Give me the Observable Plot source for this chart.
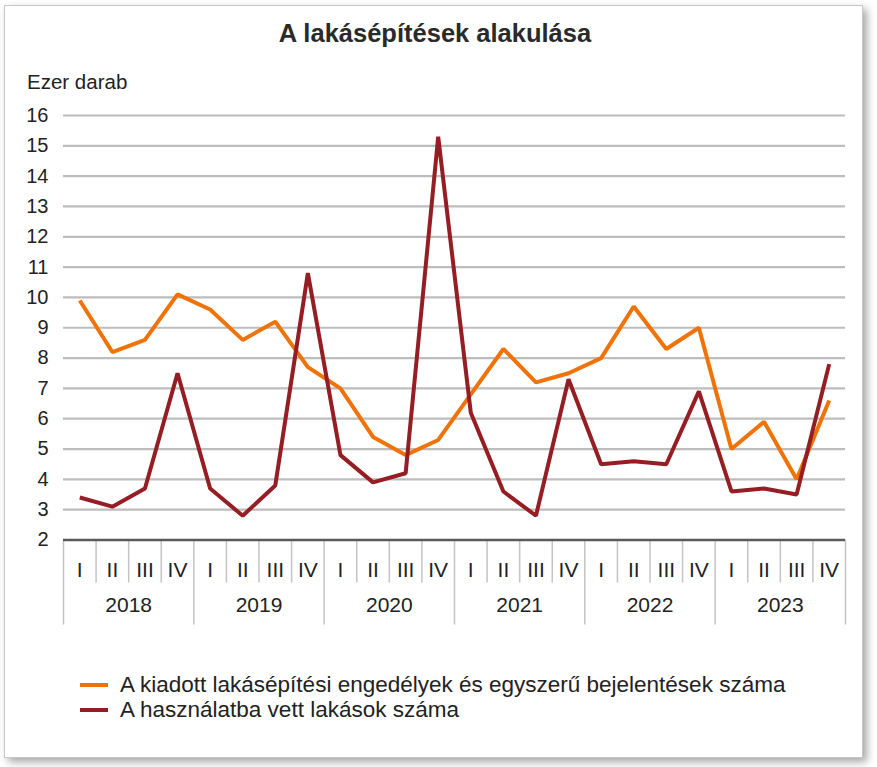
<!DOCTYPE html>
<html>
<head>
<meta charset="utf-8">
<script src="https://cdn.jsdelivr.net/npm/d3@7"></script>
<script src="https://cdn.jsdelivr.net/npm/@observablehq/plot@0.6"></script>
<style>
  html, body { margin: 0; padding: 0; background: #ffffff; }
  body { width: 877px; height: 767px; position: relative; overflow: hidden; font-family: "Liberation Sans", Arial, sans-serif; color: #222; }
  #box { position: absolute; left: 4px; top: 5px; width: 857px; height: 751px; border: 1px solid #c8c8c8; background: #fff; box-shadow: 4px 4px 8px rgba(0,0,0,0.35); }
  #title { position: absolute; left: 0; top: 19px; width: 870px; text-align: center; font-weight: bold; font-size: 25.5px; color: #2a2a2a; }
  #unit { position: absolute; left: 27px; top: 70px; font-size: 20.5px; color: #222; }
  #chart { position: absolute; left: 0; top: 60px; }
  #legend { position: absolute; left: 80px; top: 672px; font-size: 22.5px; color: #222; line-height: 25px; }
  .li { display: flex; align-items: center; }
  .sw { width: 28px; height: 4px; margin-right: 12px; }
</style>
</head>
<body>
<div id="box"></div>
<div id="title">A lakásépítések alakulása</div>
<div id="unit">Ezer darab</div>
<div id="chart"></div>
<div id="legend"></div>
<script>
const years = ["2018", "2019", "2020", "2021", "2022", "2023"];
const quarters = ["I", "II", "III", "IV"];
const seriesNames = [
  "A kiadott lakásépítési engedélyek és egyszerű bejelentések száma",
  "A használatba vett lakások száma"
];
const seriesColors = ["#EF7308", "#951D24"];
const permits = [9.9, 8.2, 8.6, 10.1, 9.6, 8.6, 9.2, 7.7, 7.0, 5.4, 4.8, 5.3,
                 6.8, 8.3, 7.2, 7.5, 8.0, 9.7, 8.3, 9.0, 5.0, 5.9, 4.0, 6.6];
const completed = [3.4, 3.1, 3.7, 7.5, 3.7, 2.8, 3.8, 10.8, 4.8, 3.9, 4.2, 15.3,
                   6.2, 3.6, 2.8, 7.3, 4.5, 4.6, 4.5, 6.9, 3.6, 3.7, 3.5, 7.8];
const yTicks = [2, 3, 4, 5, 6, 7, 8, 9, 10, 11, 12, 13, 14, 15, 16];

const rows = [];
[permits, completed].forEach((vals, s) => {
  vals.forEach((v, i) => rows.push({i, value: v, series: seriesNames[s]}));
});
const n = years.length * quarters.length;
const idx = d3.range(n);
const quarterSeps = d3.range(n + 1).map(i => i - 0.5).filter(v => (v + 0.5) % 4 !== 0);
const yearSeps = d3.range(years.length + 1).map(k => k * 4 - 0.5);
const yearCenters = years.map((y, k) => k * 4 + 1.5);

const chart = Plot.plot({
  width: 877,
  height: 580,
  marginLeft: 63,
  marginRight: 32,
  marginTop: 55,
  marginBottom: 100.5,
  style: {fontFamily: "'Liberation Sans', Arial, sans-serif", fontSize: "20px", color: "#222", background: "transparent"},
  x: {type: "linear", domain: [-0.5, n - 0.5]},
  y: {domain: [2, 16]},
  color: {domain: seriesNames, range: seriesColors},
  marks: [
    Plot.gridY(yTicks.slice(1), {stroke: "#bdbdbd", strokeOpacity: 1, strokeWidth: 2.2}),
    Plot.axisY(yTicks, {tickSize: 0, tickPadding: 15, label: null, fontSize: 20, fill: "#222"}),
    Plot.axisX(quarterSeps, {tickSize: 43, tickFormat: () => "", label: null, stroke: "#c4c4c4", strokeWidth: 1.5}),
    Plot.axisX(yearSeps, {tickSize: 85, tickFormat: () => "", label: null, stroke: "#c4c4c4", strokeWidth: 1.5}),
    Plot.axisX(idx, {tickSize: 0, tickPadding: 22, tickFormat: i => quarters[i % 4], label: null, fontSize: 21, fill: "#222"}),
    Plot.axisX(yearCenters, {tickSize: 0, tickPadding: 57, tickFormat: (v) => years[Math.round((v - 1.5) / 4)], label: null, fontSize: 21, fill: "#222"}),
    Plot.ruleY([2], {stroke: "#5a5a5a", strokeWidth: 2.5}),
    Plot.line(rows, {x: "i", y: "value", z: "series", stroke: "series", strokeWidth: 4, strokeLinejoin: "miter", strokeLinecap: "butt"})
  ]
});
document.getElementById("chart").appendChild(chart);

const legend = document.getElementById("legend");
seriesNames.forEach((name, s) => {
  const row = document.createElement("div");
  row.className = "li";
  const sw = document.createElement("span");
  sw.className = "sw";
  sw.style.background = seriesColors[s];
  const t = document.createElement("span");
  t.textContent = name;
  row.appendChild(sw);
  row.appendChild(t);
  legend.appendChild(row);
});
</script>
</body>
</html>
